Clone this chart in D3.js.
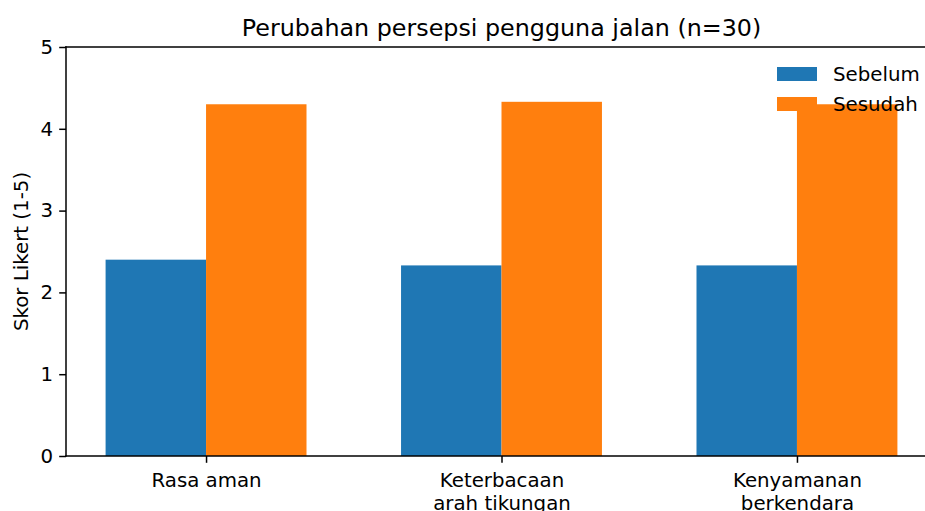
<!DOCTYPE html>
<html>
<head>
<meta charset="utf-8">
<script src="https://cdn.jsdelivr.net/npm/d3@7"></script>
<style>
  body { margin: 0; background: white; }
  svg { display: block; }
  svg text { font-family: "DejaVu Sans", sans-serif; }
</style>
</head>
<body>
<div id="chart"></div>
<script>
// ---------- data ----------
const categories = ["Rasa aman", "Keterbacaan\narah tikungan", "Kenyamanan\nberkendara"];
const sebelum = [2.4, 2.33, 2.33];
const sesudah = [4.3, 4.33, 4.3];
const seriesNames = ["Sebelum", "Sesudah"];
const yTicks = [0, 1, 2, 3, 4, 5];

const colors = ["#1f77b4", "#ff7f0e"];

// ---------- layout ----------
const width = 925, height = 511;
const plotLeft = 66, plotTop = 47, plotBottom = 456;
const plotRight = 937; // axes extends past the window edge
const barW = 0.34;
const fs = 19.8;

const svg = d3.select("#chart").append("svg")
    .attr("width", width)
    .attr("height", height);

const x = d3.scaleLinear()
    .domain([-0.474, categories.length - 1 + 0.474])
    .range([plotLeft, plotRight]);

const y = d3.scaleLinear()
    .domain([0, 5])
    .range([plotBottom, plotTop]);

// bars
const series = [sebelum, sesudah];
series.forEach((vals, si) => {
    svg.append("g").selectAll("rect")
        .data(vals)
        .join("rect")
        .attr("x", (d, i) => x(i + (si === 0 ? -barW : 0)))
        .attr("width", x(barW) - x(0))
        .attr("y", d => y(d))
        .attr("height", d => y(0) - y(d))
        .attr("fill", colors[si]);
});

// y axis
const yAxis = svg.append("g")
    .attr("transform", `translate(${plotLeft},0)`)
    .call(d3.axisLeft(y).tickValues(yTicks).tickFormat(d3.format("d")).tickSize(6.8).tickPadding(6));
yAxis.attr("font-family", null).attr("font-size", null);
yAxis.selectAll("text").style("font-size", fs + "px").attr("fill", "#000");
yAxis.selectAll("line").attr("stroke", "#000").attr("stroke-width", 1.5);
yAxis.select(".domain").remove();

// x axis
const xAxis = svg.append("g")
    .attr("transform", `translate(0,${y(0)})`)
    .call(d3.axisBottom(x).tickValues(d3.range(categories.length)).tickFormat("").tickSize(6.8));
xAxis.attr("font-family", null).attr("font-size", null);
xAxis.selectAll("line").attr("stroke", "#000").attr("stroke-width", 1.5);
xAxis.select(".domain").remove();

xAxis.selectAll(".tick").each(function(d, i) {
    const lines = categories[i].split("\n");
    const t = d3.select(this).append("text")
        .attr("text-anchor", "middle")
        .attr("fill", "#000")
        .style("font-size", fs + "px");
    lines.forEach((ln, k) => {
        t.append("tspan").attr("x", 0).attr("y", 31 + k * 23).text(ln);
    });
});

// spines (left, bottom, top)
const spine = (x1, y1, x2, y2) => svg.append("line")
    .attr("x1", x1).attr("y1", y1).attr("x2", x2).attr("y2", y2)
    .attr("stroke", "#000").attr("stroke-width", 1.5).attr("stroke-linecap", "square");
spine(plotLeft, y(5), plotLeft, y(0));
spine(plotLeft, y(0), plotRight, y(0));
spine(plotLeft, y(5), plotRight, y(5));

// title
svg.append("text")
    .attr("x", (plotLeft + plotRight) / 2)
    .attr("y", 36)
    .attr("text-anchor", "middle")
    .style("font-size", "23.8px")
    .text("Perubahan persepsi pengguna jalan (n=30)");

// y label
svg.append("text")
    .attr("transform", `translate(28,${(y(0) + y(5)) / 2}) rotate(-90)`)
    .attr("text-anchor", "middle")
    .style("font-size", fs + "px")
    .text("Skor Likert (1-5)");

// legend (no frame)
const legend = svg.append("g").attr("transform", "translate(777,67)");
seriesNames.forEach((name, i) => {
    const g = legend.append("g").attr("transform", `translate(0,${i * 30})`);
    g.append("rect").attr("width", 40).attr("height", 14).attr("fill", colors[i]);
    g.append("text").attr("x", 56).attr("y", 14)
        .style("font-size", fs + "px")
        .text(name);
});
</script>
</body>
</html>
